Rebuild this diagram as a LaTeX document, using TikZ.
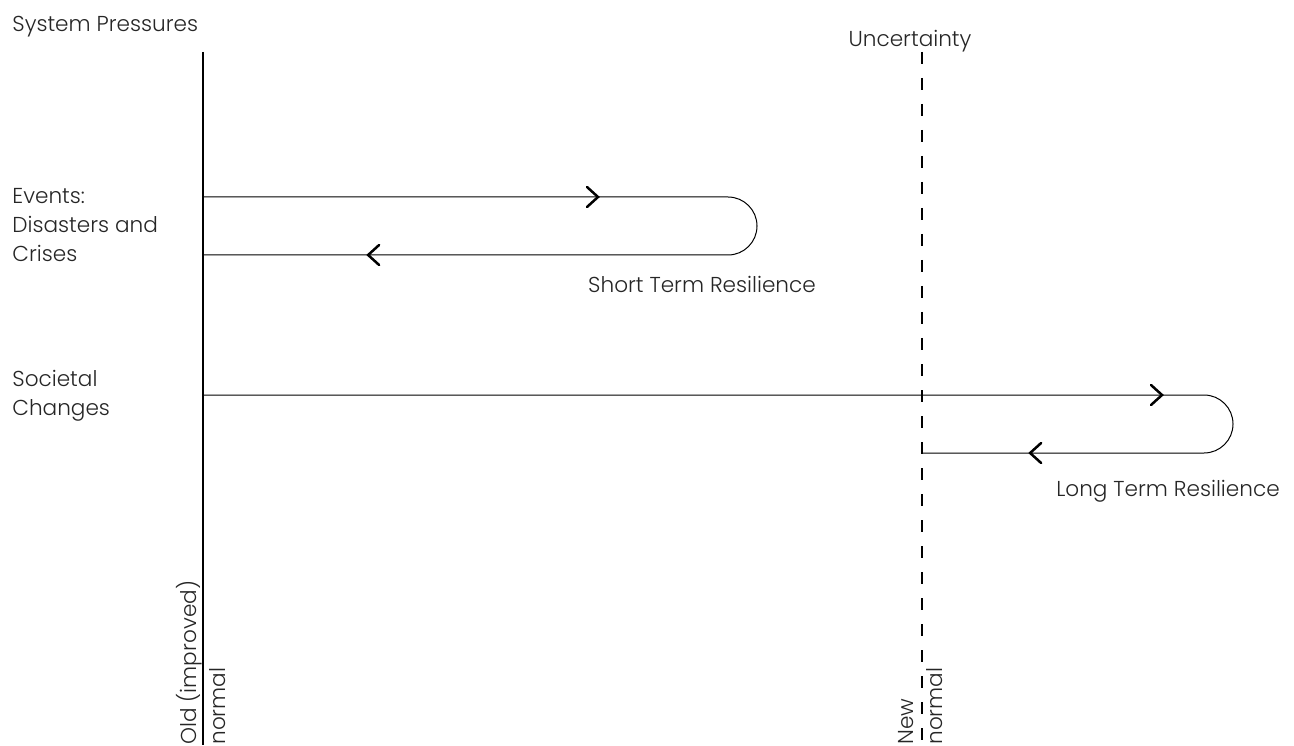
\documentclass[tikz,border=0pt]{standalone}
\usepackage{fontspec}
\setmainfont{Poppins Light}
\usetikzlibrary{positioning}
\usetikzlibrary{decorations.markings}

\newcommand{\chevron}{\draw[line width=1.25pt, line cap=round, line join=miter] (-5.5pt,5pt) -- (0pt,0pt) -- (-5.5pt,-5pt);}

\begin{document}
\begin{tikzpicture}[x=0.5pt,y=0.5pt,
    txt/.style={font=\fontsize{10.8}{14.5}\selectfont, inner sep=0pt, align=left, text=black!85},
    axis/.style={line width=0.6pt},
    loop/.style={line width=0.5pt}]
\useasboundingbox (0,0) rectangle (1294,745);

\coordinate (oldtop) at (203,693);
\coordinate (oldbot) at (203,0);
\coordinate (newtop) at (922,693);
\coordinate (newbot) at (922,0);
\draw[axis] (oldtop) -- (oldbot);
\draw[axis, dash pattern=on 6pt off 7pt] (newtop) -- (newbot);

\node[txt, anchor=base west] (pressures) at (12,713) {System Pressures};
\node[txt, anchor=base] (uncertainty) at (910,698) {Uncertainty};
\node[txt, anchor=north west] (events) at (12,557) {Events:\\Disasters and\\Crises};
\node[txt, anchor=north west] (societal) at (12,375) {Societal\\Changes};
\node[txt, rotate=90, anchor=west] (old) at (201,0) {Old (improved)\\normal};
\node[txt, rotate=90, anchor=west] (new) at (921,0) {New\\normal};

% short term loop
\coordinate (shortin) at (203,548);
\coordinate (shortout) at (203,490);
\draw[loop, postaction={decorate}, decoration={markings,
    mark=at position 197.5pt with {\chevron},
    mark=at position 488pt with {\chevron}}]
  (shortin) -- ++(525,0) coordinate (shortturn)
  arc[start angle=90, end angle=-90, radius=29] -- (shortout);
\node[txt, anchor=base] (short) at (702,452) {Short Term Resilience};

% long term loop
\coordinate (longin) at (203,350);
\coordinate (longout) at (922,292);
\draw[loop, postaction={decorate}, decoration={markings,
    mark=at position 479.5pt with {\chevron},
    mark=at position 633pt with {\chevron}}]
  (longin) -- ++(1001,0) coordinate (longturn)
  arc[start angle=90, end angle=-90, radius=29] -- (longout);
\node[txt, anchor=base] (long) at (1168,249) {Long Term Resilience};
\end{tikzpicture}
\end{document}
